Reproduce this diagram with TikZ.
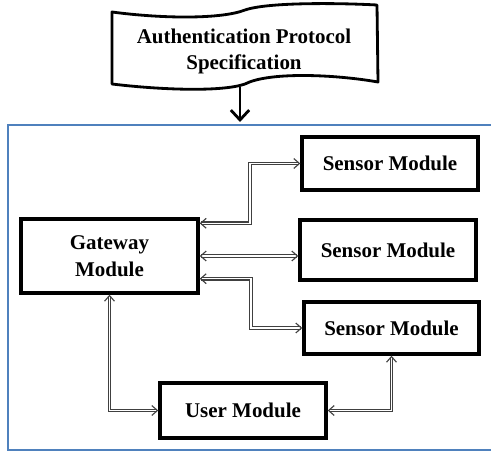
\documentclass[tikz,border=0pt]{standalone}
\usepackage{fontspec}
\setmainfont{Liberation Serif}
\usetikzlibrary{arrows.meta, positioning, calc}
\definecolor{frameblue}{RGB}{79,129,189}
\tikzset{
    flowdiagram/.style={x=0.025cm, y=-0.025cm, font=\fontsize{14.9}{19}\selectfont\bfseries},
    module/.style={draw, line width=2.4pt, align=center, inner sep=0pt},
    tape/.style={draw, line width=2pt, line join=round},
    link/.style={draw=black!75, double=white, double distance=1pt, line width=0.8pt,
        {Straight Barb[length=4pt, width=7pt]}-{Straight Barb[length=4pt, width=7pt]}},
    feed/.style={line width=2pt, -{Straight Barb[length=7pt, width=13pt]}},
    frame/.style={draw=frameblue, line width=0.9pt},
}
\begin{document}
\begin{tikzpicture}[flowdiagram]
    \useasboundingbox (0,0) rectangle (491,453);

    % specification document on top
    \draw[tape] (112,12) .. controls (165,19) and (222,19) .. (245,10)
        .. controls (268,2) and (340,3) .. (377,5) -- (378,82)
        .. controls (332,74) and (268,72) .. (245,84)
        .. controls (222,92) and (162,90) .. (112,84) -- cycle;
    \node (spec) at (244,51.5) [align=center] {Authentication Protocol\\Specification};
    \coordinate (tapeend) at (240,87);
    \coordinate (framein) at (240,122);
    \draw[feed] (tapeend) -- (framein);

    \draw[frame] (8,125) rectangle (500,450);

    % modules
    \node[module, minimum width=4.425cm, minimum height=1.85cm]  (gw)    at (109.5,256) {Gateway\\Module};
    \node[module, minimum width=4.4cm,   minimum height=1.325cm] (sensA) at (390,163.5) {Sensor Module};
    \node[module, minimum width=4.4cm,   minimum height=1.5cm]   (sensB) at (388,250)   {Sensor Module};
    \node[module, minimum width=4.375cm, minimum height=1.3cm]   (sensC) at (391.5,328) {Sensor Module};
    \node[module, minimum width=4.15cm,  minimum height=1.375cm] (user)  at (243,410.5) {User Module};

    \coordinate (gwA) at ($(gw.north east)+(0,6)$);
    \coordinate (gwC) at ($(gw.south east)+(0,-16)$);

    \draw[link] (gwA) -| ($(gwA)!.5!(sensA.west)$) |- (sensA.west);
    \draw[link] (gw.east) -- (gw.east -| sensB.west);
    \draw[link] (gwC) -| ($(gwC)!.5!(sensC.west)$) |- (sensC.west);
    \draw[link] (gw.south) |- (user.west);
    \draw[link] (user.east) -| (sensC.south);
\end{tikzpicture}
\end{document}
